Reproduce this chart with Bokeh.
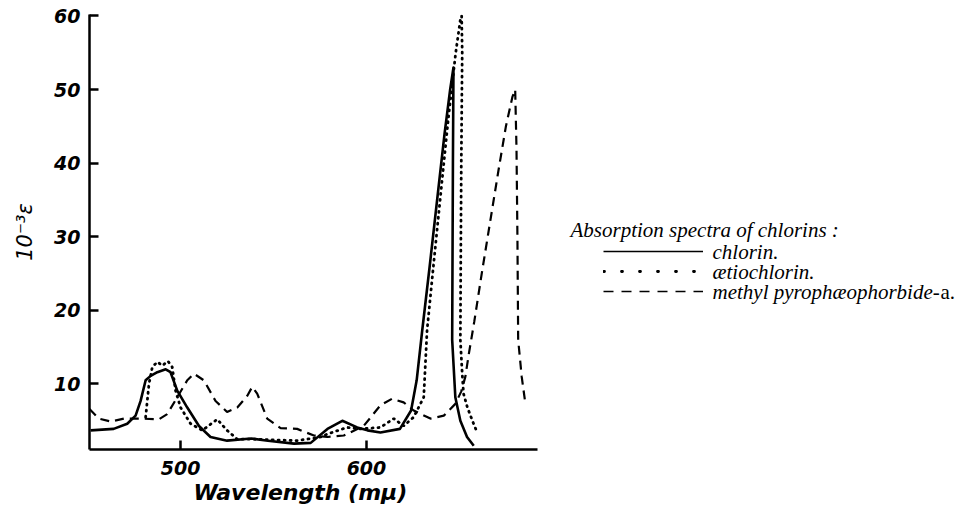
import math
from bokeh.plotting import figure
from bokeh.models import FixedTicker, Label, Legend, LegendItem, Range1d, Title
from bokeh.embed import file_html
from bokeh.resources import INLINE

# ---------------- data ----------------
wl_chlorin = [451.6, 464, 471.3, 475.8, 478.5, 481.2, 483.9, 487.5, 492, 494.6, 498.2, 503.6,
              509.9, 516.1, 525, 538, 547, 561, 570, 579, 587, 595, 600.5, 607.5, 618, 624,
              627, 630, 634, 638, 642, 645, 646.8, 646.5, 646.1, 647.8, 650.5, 654.1, 657.7]
eps_chlorin = [3.7, 3.9, 4.6, 5.7, 7.7, 10.5, 11.1, 11.6, 12.0, 11.6, 9.1, 6.8,
               4.3, 2.8, 2.3, 2.6, 2.3, 1.9, 2.0, 3.9, 5.0, 4.1, 3.7, 3.4, 3.9, 6.4,
               10.5, 17.3, 26, 35, 44, 50, 53, 40, 16, 8.2, 5.0, 2.8, 1.6]

wl_aetio = [481.2, 483, 484.8, 487.5, 490.2, 493.2, 495.5, 497.3, 500, 505.4, 511.7, 519.7,
            525, 530.5, 539.3, 550, 562.7, 575.3, 579, 589.6, 597, 607.5, 614.7, 620, 625.4,
            630.8, 632.6, 636, 640, 644, 648, 650.5, 651.2, 651.5, 651, 650.5, 651.5, 652.2,
            654.3, 657, 659.7]
eps_aetio = [5.5, 10, 12.3, 13.0, 12.5, 13.1, 12.3, 9.1, 6.8, 4.6, 3.7, 5.2,
             3.7, 2.5, 2.5, 2.4, 2.3, 2.8, 3.2, 4.1, 3.9, 4.1, 5.3, 4.3, 5.5,
             8.2, 17.3, 26, 36, 46, 55, 59.5, 60, 55, 40, 16, 11.4, 8.7,
             6.8, 5.0, 3.3]

wl_methyl = [451, 456, 462.4, 469.5, 478.5, 488.3, 492.8, 498.2, 503.6, 507.2, 512.5, 518.8,
             525, 530.5, 535.9, 538.5, 541.2, 546.6, 553.8, 562.7, 571.7, 579, 587.8, 598.5,
             607.5, 613.8, 620, 625.4, 634.4, 641.6, 647.8, 651, 653.2, 655, 658, 662, 666.5,
             671, 675, 678.5, 680, 680.7, 681.2, 681.6, 683.5, 685.5]
eps_methyl = [6.6, 5.3, 4.9, 5.3, 5.3, 5.2, 5.9, 8.2, 10.5, 11.4, 10.5, 7.7,
              6.2, 6.8, 8.4, 9.6, 8.7, 5.3, 4.0, 3.9, 3.0, 2.8, 3.0, 4.3,
              7.1, 8.0, 7.5, 6.4, 5.3, 5.7, 7.3, 9.0, 11.0, 14.0, 18.5, 25, 32,
              39, 45, 49, 50, 42, 30, 16, 11, 7.3]

x_ticks = [500, 600]
y_ticks = [10, 20, 30, 40, 50, 60]
legend_title = "Absorption spectra of chlorins :"
legend_labels = ["chlorin.", "ætiochlorin.", "methyl pyrophæophorbide-"]
legend_suffix = "a."
x_title = "Wavelength (mμ)"
y_title = "10⁻³ε"

# ---------------- figure ----------------
W, H = 963, 504
AX0, AX1 = 451.0, 692.0          # extent of the drawn wavelength axis
Y0, Y1 = 1.1, 60.2
FL, FT, FB = 89, 14, 449          # frame edges (px); frame runs to the right edge
AXR = 537                         # right end of the drawn x axis (px)
ppn = (AXR - FL) / (AX1 - AX0)    # pixels per nm
X_END = AX0 + (W - FL) / ppn

p = figure(width=W, height=H, x_range=Range1d(AX0, X_END), y_range=Range1d(Y0, Y1),
           output_backend="svg", toolbar_location=None,
           min_border_left=FL, min_border_right=0,
           min_border_top=FT, min_border_bottom=H - FB)
p.outline_line_color = None
p.xgrid.visible = False
p.ygrid.visible = False
p.background_fill_color = "white"
p.border_fill_color = "white"


def px2x(X):
    return AX0 + (X - FL) / ppn


def px2y(Y):
    return Y0 + (FB - Y) / (FB - FT) * (Y1 - Y0)


for ax, ticks in ((p.xaxis, x_ticks), (p.yaxis, y_ticks)):
    ax.ticker = FixedTicker(ticks=ticks)
    ax.axis_line_width = 2.5
    ax.axis_line_color = "black"
    ax.major_tick_line_width = 2.5
    ax.major_tick_line_color = "black"
    ax.major_tick_in = 9
    ax.major_tick_out = 0
    ax.minor_tick_line_color = None
    ax.major_label_text_font = "DejaVu Sans"
    ax.major_label_text_font_style = "bold italic"
    ax.major_label_text_font_size = "19px"
    ax.major_label_text_color = "black"
p.xaxis.bounds = (AX0, AX1)
p.xaxis.major_label_standoff = 11
p.yaxis.major_label_standoff = 9
p.yaxis.axis_label = y_title
p.yaxis.axis_label_text_font = "DejaVu Sans"
p.yaxis.axis_label_text_font_style = "italic"
p.yaxis.axis_label_text_font_size = "21px"
p.yaxis.axis_label_text_color = "black"
p.yaxis.axis_label_standoff = 14

p.add_layout(Title(text=x_title, align="left", offset=104, standoff=0,
                   text_font="DejaVu Sans", text_font_style="bold italic",
                   text_font_size="22px", text_color="black"), "below")

# ---------------- curves ----------------
r_c = p.line(wl_chlorin, eps_chlorin, line_color="black", line_width=2.6, line_join="round")
r_a = p.line(wl_aetio, eps_aetio, line_color="black", line_width=2.8, line_dash="1 5",
             line_cap="round")
r_m = p.line(wl_methyl, eps_methyl, line_color="black", line_width=2.2, line_dash="9 6")

# key samples: renderers holding one undefined point, styled like the printed key
nan = float("nan")
k_c = p.line([nan], [nan], line_color="black", line_width=1.6)
k_a = p.line([nan], [nan], line_color="black", line_width=2.8, line_dash="1 17", line_cap="round")
k_m = p.line([nan], [nan], line_color="black", line_width=1.6, line_dash="10 8")

ROW0, ROWH = 251, 20     # centre of the first key row and row pitch (px)
legend = Legend(items=[LegendItem(label=" ", renderers=[r]) for r in (k_c, k_a, k_m)],
                location=(603 - FL, FB - (ROW0 + 2.5 * ROWH)),
                glyph_width=100, glyph_height=ROWH, label_height=ROWH, spacing=0,
                label_standoff=0, label_width=0, padding=0, margin=0,
                border_line_color=None, background_fill_alpha=0,
                label_text_font_size="1px")
p.add_layout(legend, "center")

text_style = dict(text_baseline="middle", text_font="Liberation Serif",
                  text_font_size="21px", text_color="black")
p.add_layout(Label(x=px2x(570), y=px2y(229), text=legend_title, text_align="left",
                   text_font_style="italic", **text_style))
for i, t in enumerate(legend_labels):
    p.add_layout(Label(x=px2x(712), y=px2y(ROW0 + i * ROWH), text=t, text_align="left",
                       text_font_style="italic", **text_style))
p.add_layout(Label(x=px2x(940), y=px2y(ROW0 + 2 * ROWH), text=legend_suffix, text_align="left",
                   text_font_style="normal", **text_style))

open("out.html", "w").write(file_html(p, INLINE))
